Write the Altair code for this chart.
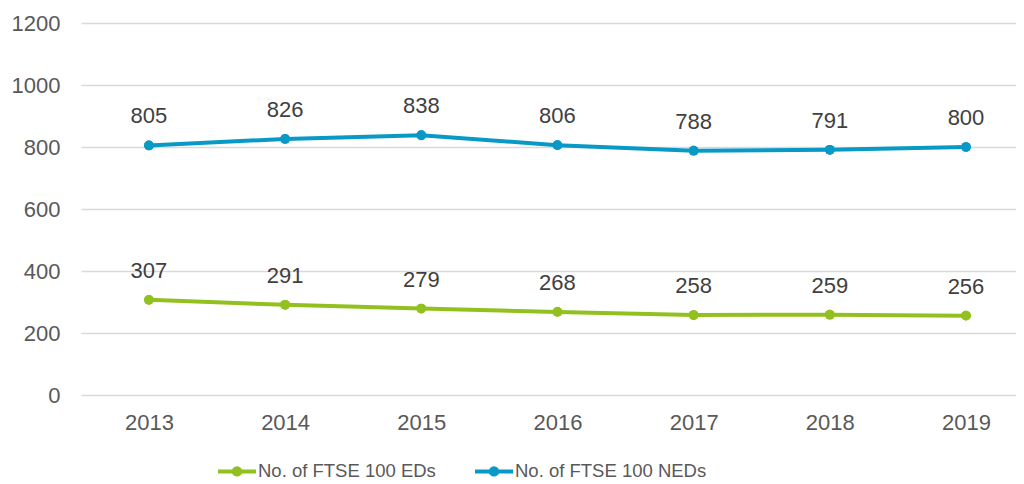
import altair as alt
import pandas as pd

years = ["2013", "2014", "2015", "2016", "2017", "2018", "2019"]
eds = [307, 291, 279, 268, 258, 259, 256]
neds = [805, 826, 838, 806, 788, 791, 800]
series_names = ["No. of FTSE 100 EDs", "No. of FTSE 100 NEDs"]
colors = ["#92C01F", "#0899C6"]

rows = []
for y, v in zip(years, eds):
    rows.append({"year": y, "value": v, "series": series_names[0]})
for y, v in zip(years, neds):
    rows.append({"year": y, "value": v, "series": series_names[1]})
df = pd.DataFrame(rows)

FONT = "Liberation Sans"
sym = "M-1,0L-0.17,0M0.17,0L1,0M-0.17,0A0.17,0.17 0 1 1 0.17,0A0.17,0.17 0 1 1 -0.17,0Z"

x = alt.X("year:N", sort=years, title=None,
          scale=alt.Scale(type="point", padding=0.433, align=0.576),
          axis=alt.Axis(labelAngle=0, domain=False, ticks=False, grid=False, labelPadding=17,
                        labelFontSize=22, labelColor="#595959", labelFont=FONT))
y = alt.Y("value:Q", title=None,
          scale=alt.Scale(domain=[0, 1200]),
          axis=alt.Axis(values=[0, 200, 400, 600, 800, 1000, 1200], format="d",
                        domain=False, ticks=False,
                        labelPadding=21, labelFontSize=22, labelColor="#595959", labelFont=FONT,
                        gridColor="#D9D9D9", gridWidth=1.5))
color = alt.Color("series:N", sort=series_names,
                  scale=alt.Scale(domain=series_names, range=colors),
                  legend=alt.Legend(title=None, orient="none", direction="horizontal",
                                    legendX=135, legendY=427,
                                    symbolType=sym, symbolSize=1444, symbolStrokeWidth=4,
                                    symbolOpacity=1, labelLimit=400,
                                    labelFontSize=18.5, labelColor="#595959", labelFont=FONT,
                                    labelOffset=0, columnPadding=31))

base = alt.Chart(df)
points = base.mark_point(filled=True, size=95, opacity=1).encode(x=x, y=y, color=color)
lines = base.mark_line(strokeWidth=4).encode(x=x, y=y, color=color)
labels = base.mark_text(dy=-29, fontSize=22, color="#404040", font=FONT).encode(
    x=x, y=y, text=alt.Text("value:Q"))

chart = (points + lines + points + labels).properties(
    width=935, height=372,
    padding={"left": 3, "top": 4, "right": 0, "bottom": 0},
).configure(font=FONT).configure_view(stroke=None)

chart.save("out.html", embed_options={"renderer": "svg", "actions": False})
